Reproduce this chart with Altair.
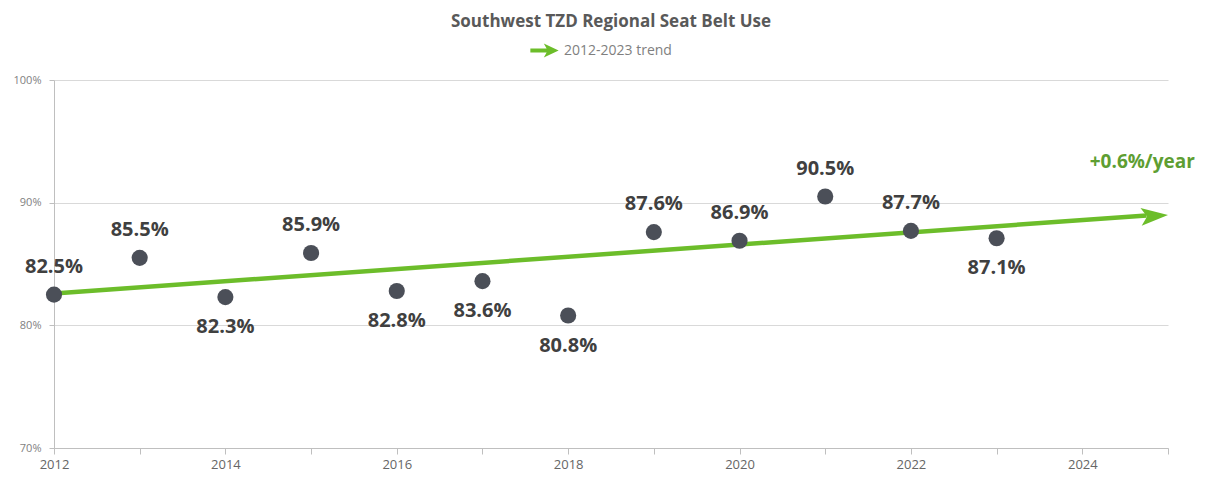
import altair as alt
import pandas as pd

years = [2012, 2013, 2014, 2015, 2016, 2017, 2018, 2019, 2020, 2021, 2022, 2023]
belt_use = [82.5, 85.5, 82.3, 85.9, 82.8, 83.6, 80.8, 87.6, 86.9, 90.5, 87.7, 87.1]
label_above = [True, True, False, True, False, False, False, True, True, True, True, False]

trend_years = [2012, 2024.75]
trend_values = [82.6, 88.95]
tip_year = [2025]
tip_value = [89.0]
trend_name = ["2012-2023 trend"]

note_year = [2024.7]
note_value = [93.3]
note_text = ["+0.6%/year"]

GREEN = "#6cbd2a"
FONT = "Open Sans"

pts = pd.DataFrame({
    "year": years,
    "value": belt_use,
    "label": [f"{v:.1f}%" for v in belt_use],
    "above": label_above,
})
trend = pd.DataFrame({"year": trend_years, "value": trend_values})
tip = pd.DataFrame({"year": tip_year, "value": tip_value, "series": trend_name})
note = pd.DataFrame({"year": note_year, "value": note_value, "text": note_text})

x_scale = alt.Scale(domain=[2012, 2025], nice=False, zero=False)
y_scale = alt.Scale(domain=[70, 100], nice=False, zero=False)

x_axis = alt.Axis(
    values=list(range(2012, 2026)),
    labelExpr="datum.value % 2 == 0 ? datum.value : ''",
    grid=False, domainColor="#bfbfbf", tickColor="#bfbfbf", tickSize=6,
    labelFont=FONT, labelFontSize=13, labelColor="#666666", labelPadding=4,
    labelFlush=False, title=None,
)
y_axis = alt.Axis(
    values=[70, 80, 90, 100],
    labelExpr="datum.value + '%'",
    grid=True, gridColor="#d9d9d9", domainColor="#bfbfbf", tickColor="#bfbfbf",
    tickSize=5, labelFont=FONT, labelFontSize=11, labelColor="#7f7f7f",
    labelPadding=8, minExtent=46, labelFlush=False, title=None,
)

base_x = alt.X("year:Q", scale=x_scale, axis=x_axis)
base_y = alt.Y("value:Q", scale=y_scale, axis=y_axis)

line = alt.Chart(trend).mark_line(color=GREEN, strokeWidth=4.5, strokeCap="butt").encode(
    x=base_x, y=base_y
)

arrow_head = "M0,0 L-2,-0.66 L-1.55,0 L-2,0.66 Z"
legend_arrow = "M-1,-0.14 L0.15,-0.14 L-0.05,-0.5 L1,0 L-0.05,0.5 L0.15,0.14 L-1,0.14 Z"

head = alt.Chart(tip).mark_point(
    shape=arrow_head, filled=True, size=729, angle=356, opacity=1
).encode(
    x=alt.X("year:Q", scale=x_scale),
    y=alt.Y("value:Q", scale=y_scale),
    color=alt.Color(
        "series:N",
        scale=alt.Scale(range=[GREEN]),
        legend=alt.Legend(
            title=None, orient="none", legendX=476, legendY=-44,
            symbolType=legend_arrow, symbolSize=800, symbolFillColor=GREEN,
            symbolStrokeWidth=0, symbolOpacity=1,
            labelFont=FONT, labelFontSize=14, labelColor="#7f7f7f", labelOffset=5,
        ),
    ),
)

points = alt.Chart(pts).mark_point(filled=True, size=260, color="#4b4f58", opacity=1).encode(
    x=alt.X("year:Q", scale=x_scale),
    y=alt.Y("value:Q", scale=y_scale),
)

labels_up = alt.Chart(pts).transform_filter("datum.above").mark_text(
    font=FONT, fontSize=20, fontWeight="bold", color="#404040", dy=-28, baseline="middle"
).encode(x=alt.X("year:Q", scale=x_scale), y=alt.Y("value:Q", scale=y_scale), text="label:N")

labels_down = alt.Chart(pts).transform_filter("!datum.above").mark_text(
    font=FONT, fontSize=20, fontWeight="bold", color="#404040", dy=30, baseline="middle"
).encode(x=alt.X("year:Q", scale=x_scale), y=alt.Y("value:Q", scale=y_scale), text="label:N")

note_layer = alt.Chart(note).mark_text(
    font=FONT, fontSize=19, fontWeight="bold", color="#5e9e32", baseline="middle"
).encode(x=alt.X("year:Q", scale=x_scale), y=alt.Y("value:Q", scale=y_scale), text="text:N")

chart = alt.layer(line, head, points, labels_up, labels_down, note_layer).properties(
    width=1114,
    height=368,
    padding={"left": 0, "top": 5, "right": 0, "bottom": 0},
    title=alt.TitleParams(
        "Southwest TZD Regional Seat Belt Use",
        font=FONT, fontSize=17, fontWeight="bold", color="#595959",
        anchor="middle", offset=5,
    ),
).configure_view(stroke=None)

chart.save("out.html", embed_options={"renderer": "svg", "actions": False})
